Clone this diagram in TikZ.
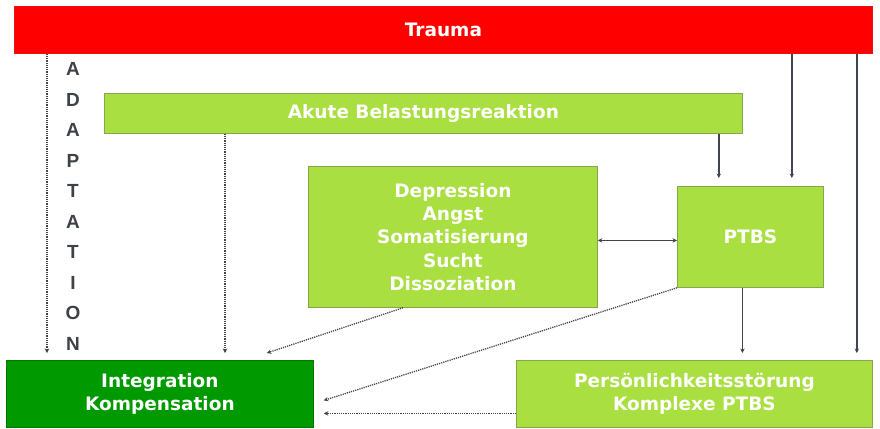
\documentclass[tikz,border=0pt]{standalone}
\usepackage{fontspec}
\setmainfont{DejaVu Sans}
\newfontfamily\adaptfont{Liberation Sans}
\usepackage{xcolor}
\usetikzlibrary{positioning}
\usetikzlibrary{arrows.meta}
\definecolor{traumared}{HTML}{FF0000}
\definecolor{limefill}{HTML}{A9DF41}
\definecolor{limeborder}{HTML}{86A54C}
\definecolor{integgreen}{HTML}{009A00}
\definecolor{arrowgray}{HTML}{40454D}
\definecolor{lettergray}{HTML}{3D4148}
\tikzset{mybox/.style={draw=limeborder, fill=limefill, line width=0.8pt,
text=white, align=center, inner sep=0pt, anchor=north west,
font=\bfseries\fontsize{18.5}{23.4}\selectfont},
solarr/.style={draw=arrowgray, line width=1.5pt, -{Stealth[length=4.5pt,width=4.5pt]}},
dotarr/.style={draw=arrowgray, line width=1.3pt, dash pattern=on 1.2pt off 1pt,
-{Stealth[length=4.5pt,width=4.5pt]}}}

\begin{document}
\begin{tikzpicture}[x=1pt, y=-1pt]
				\useasboundingbox (0,0) rectangle (880,428);

				\node[mybox, fill=traumared, draw=traumared!85!gray, minimum width=858pt, minimum height=47pt] (trauma) at (14,6) {Trauma};
				\node[mybox, minimum width=638pt, minimum height=40pt] (akute) at (104,93) {Akute Belastungsreaktion};
				\node[mybox, minimum width=289pt, minimum height=141pt] (dep) at (308,166)
					{Depression\\Angst\\Somatisierung\\Sucht\\Dissoziation};
				\node[mybox, minimum width=146pt, minimum height=101pt] (ptbs) at (677,186) {PTBS};
				\node[mybox, fill=integgreen, draw=integgreen!80!black, minimum width=307pt, minimum height=67pt] (integ) at (6,360)
					{Integration\\Kompensation};
				\node[mybox, minimum width=356pt, minimum height=67pt] (pers) at (516,360)
					{Persönlichkeitsstörung\\Komplexe PTBS};
				\node[text=lettergray, align=center, inner sep=0pt, font=\adaptfont\bfseries\fontsize{19}{30.5}\selectfont] (adapt) at (73,206.3)
					{A\\D\\A\\P\\T\\A\\T\\I\\O\\N};

				% dotted: towards integration
				\draw[dotarr, shorten >=7pt] ([xshift=33pt]trauma.south west) -- ([xshift=33pt]trauma.south west |- integ.north);
				\draw[dotarr, shorten >=7pt] ([xshift=121pt]akute.south west) -- ([xshift=121pt]akute.south west |- integ.north);
				\draw[dotarr] ([xshift=95pt]dep.south west) -- ([xshift=-47pt,yshift=7pt]integ.north east);
				\draw[dotarr] (ptbs.south west) -- ([xshift=10pt,yshift=-6.5pt]integ.east);
				\draw[dotarr, shorten >=10pt] ([yshift=-19.5pt]pers.west) -- ([yshift=-19.5pt]pers.west -| integ.east);

				% solid arrows
				\draw[solarr, shorten >=8pt] ([xshift=-24pt]akute.south east) -- ([xshift=-24pt]akute.south east |- ptbs.north);
				\draw[solarr, shorten >=8pt] ([xshift=-81pt]trauma.south east) -- ([xshift=-81pt]trauma.south east |- ptbs.north);
				\draw[solarr, shorten >=7pt] ([xshift=-16pt]trauma.south east) -- ([xshift=-16pt]trauma.south east |- pers.north);
				\draw[solarr, shorten >=7pt] ([xshift=-8pt]ptbs.south) -- ([xshift=-8pt]ptbs.south |- pers.north);
				\draw[solarr, {Stealth[length=4.5pt,width=4.5pt]}-{Stealth[length=4.5pt,width=4.5pt]}] ([yshift=-3.5pt]dep.east) -- ([yshift=-3.5pt]ptbs.west);
\end{tikzpicture}
\end{document}
